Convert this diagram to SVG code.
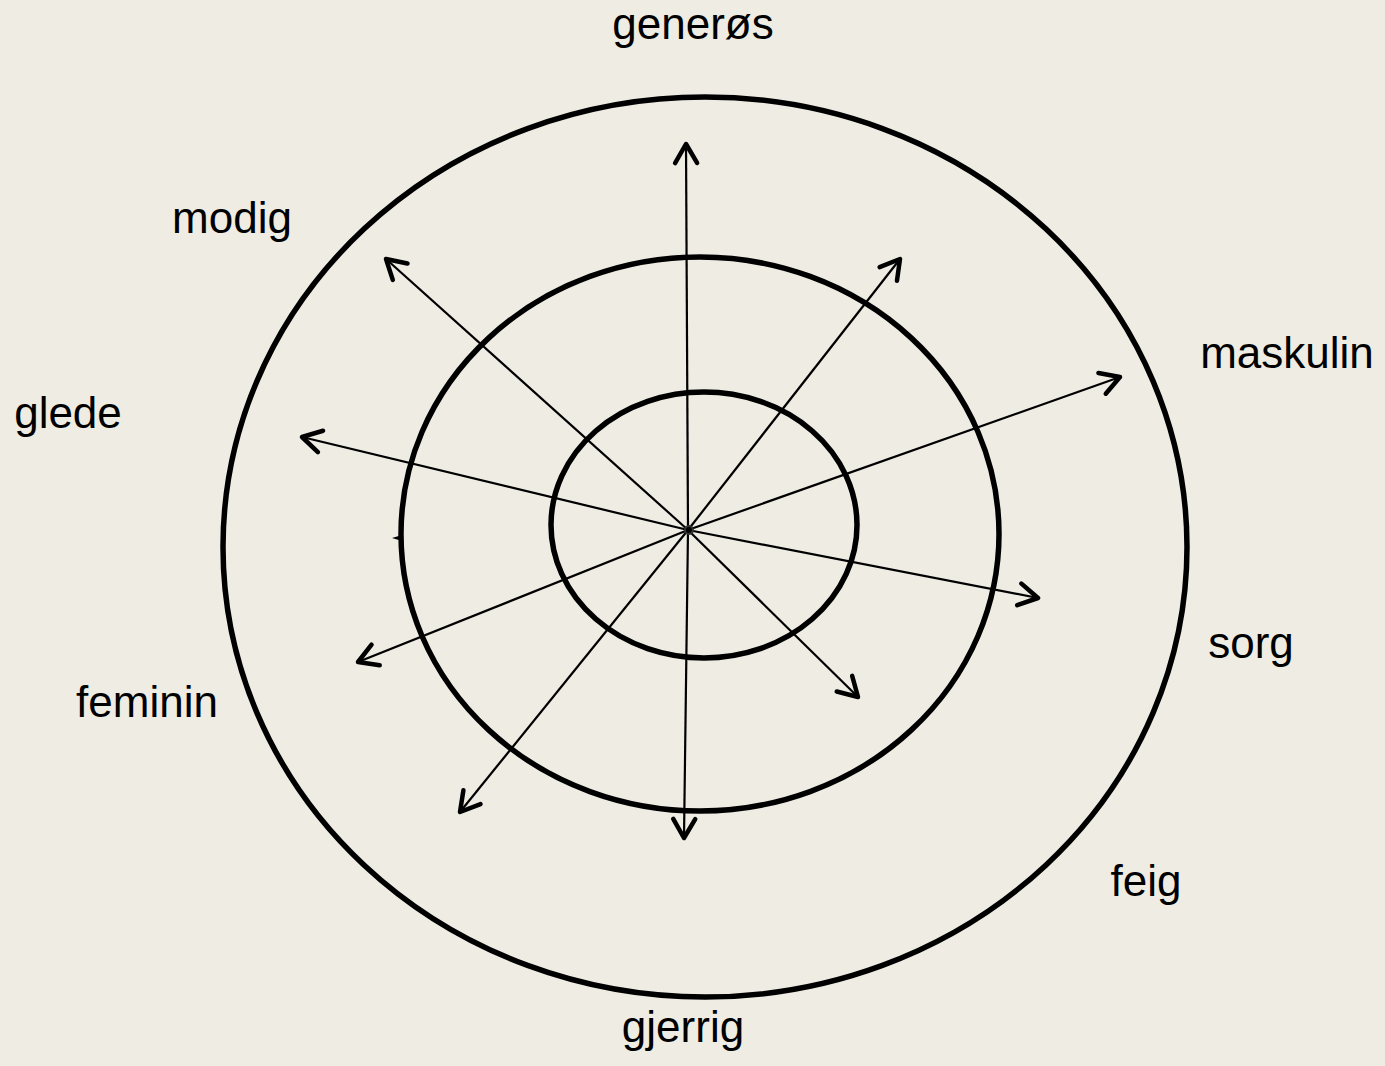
<svg xmlns="http://www.w3.org/2000/svg" width="1385" height="1066" viewBox="0 0 1385 1066">
<style>
.ring{fill:none;stroke:#000;stroke-width:5.5}
.axis{stroke:#000;stroke-width:2.2;fill:none;marker-end:url(#ah)}
.lbl{font-family:"Liberation Sans",Arial,sans-serif;font-size:44px;fill:#000}
</style>
<defs>
<marker id="ah" markerUnits="userSpaceOnUse" viewBox="-30 -20 40 40" refX="0" refY="0" markerWidth="40" markerHeight="40" orient="auto" overflow="visible">
<path d="M-19 -11 L0 0 L-19 11" fill="none" stroke="#000" stroke-width="4.5" stroke-linecap="round" stroke-linejoin="round"/>
</marker>
</defs>
<rect width="1385" height="1066" fill="#EEECE3"/>
<g id="rings">
<ellipse id="outer" class="ring" cx="705" cy="547" rx="482" ry="450"/>
<ellipse id="middle" class="ring" cx="700" cy="534" rx="299" ry="277"/>
<ellipse id="inner" class="ring" cx="704" cy="525" rx="153" ry="133"/>
</g>
<g id="connectors">
<line class="axis" x1="688" y1="530" x2="686" y2="144"/>
<line class="axis" x1="688" y1="530" x2="684" y2="838"/>
<line class="axis" x1="688" y1="530" x2="386" y2="259"/>
<line class="axis" x1="688" y1="530" x2="858" y2="697"/>
<line class="axis" x1="688" y1="530" x2="900" y2="259"/>
<line class="axis" x1="688" y1="530" x2="460" y2="812"/>
<line class="axis" x1="688" y1="530" x2="1120" y2="377"/>
<line class="axis" x1="688" y1="530" x2="358" y2="662"/>
<line class="axis" x1="688" y1="530" x2="302" y2="437"/>
<line class="axis" x1="688" y1="530" x2="1038" y2="598"/>
<path d="M392 538 L402 535 L402 541 Z" fill="#000"/>
<circle cx="689" cy="530" r="4" fill="none" stroke="#333" stroke-width="2"/>
</g>
<g id="labels">
<text id="generos" class="lbl" x="693" y="39" text-anchor="middle">generøs</text>
<text id="modig" class="lbl" x="232" y="233" text-anchor="middle">modig</text>
<text id="maskulin" class="lbl" x="1287" y="368" text-anchor="middle">maskulin</text>
<text id="glede" class="lbl" x="68" y="428" text-anchor="middle">glede</text>
<text id="sorg" class="lbl" x="1251" y="658" text-anchor="middle">sorg</text>
<text id="feminin" class="lbl" x="147" y="717" text-anchor="middle">feminin</text>
<text id="feig" class="lbl" x="1146" y="896" text-anchor="middle">feig</text>
<text id="gjerrig" class="lbl" x="683" y="1042" text-anchor="middle">gjerrig</text>
</g>
</svg>
